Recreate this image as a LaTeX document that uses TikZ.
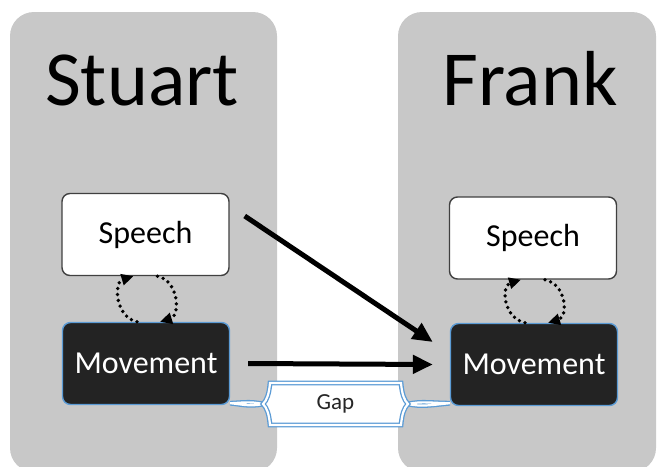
\documentclass[tikz,border=0pt]{standalone}
\usepackage{fontspec}
\setmainfont{Carlito}
\usetikzlibrary{arrows.meta}
\definecolor{panelgray}{HTML}{C8C8C8}
\definecolor{movefill}{HTML}{232323}
\definecolor{gapblue}{HTML}{5B9BD5}
\definecolor{boxedge}{HTML}{404040}
\begin{document}
\begin{tikzpicture}[x=1pt, y=-1pt,
  panel/.style={fill=panelgray, rounded corners=24pt},
  title/.style={anchor=base, font=\fontsize{78}{80}\selectfont},
  speechbox/.style={draw=boxedge, line width=1.4pt, fill=white, rounded corners=8pt,
              minimum width=167pt, minimum height=82pt, font=\fontsize{32}{34}\selectfont},
  movebox/.style={draw=gapblue, line width=1.4pt, fill=movefill, text=white, rounded corners=8pt,
              minimum width=167pt, minimum height=82pt, font=\fontsize{32}{34}\selectfont},
  bigarr/.style={-{Triangle[length=20pt,width=18pt]}, line width=5pt},
  cyc/.style={-{Triangle[length=12pt,width=11pt]}, line width=3.8pt, line cap=round,
              dash pattern=on 0pt off 6pt},
  gapline/.style={draw=gapblue, line width=1.3pt, double=white, double distance=2.2pt}
]
  \useasboundingbox (0,0) rectangle (658,466);
  % Panels
  \fill[panel] (10,12) rectangle (277,472);
  \fill[panel] (398,12) rectangle (656,472);
  \node[title] (stuart) at (142,105) {Stuart};
  \node[title] (frank)  at (530,105) {Frank};
  % Boxes
  \node[speechbox] (sp1) at (145.5,234.5) {Speech};
  \node[movebox]   (mv1) at (146,363.5)   {Movement};
  \node[speechbox] (sp2) at (533,238)     {Speech};
  \node[movebox]   (mv2) at (534,364.5)   {Movement};
  % Loops
  \draw[cyc] ([xshift=-9pt]mv1.north) .. controls +(-22,-5) and +(-20,6) .. ([xshift=-12pt]sp1.south);
  \draw[cyc] ([xshift=12pt]sp1.south) .. controls +(22,5) and +(20,-6) .. ([xshift=14pt]mv1.north);
  \draw[cyc] ([xshift=-9pt]mv2.north) .. controls +(-22,-5) and +(-20,6) .. ([xshift=-12pt]sp2.south);
  \draw[cyc] ([xshift=12pt]sp2.south) .. controls +(22,5) and +(20,-6) .. ([xshift=14pt]mv2.north);
  % Links
  \draw[bigarr] ([xshift=15pt,yshift=18.5pt]sp1.east) -- ([xshift=-17pt,yshift=22.5pt]mv2.west);
  \draw[bigarr] ([xshift=18pt]mv1.east) -- ([xshift=-17pt]mv2.west);
  % Gap
  \coordinate (gl) at (263,404);
  \coordinate (gr) at (408,404);
  \draw[gapline] (gl) .. controls (250,401) and (240,403) .. ([yshift=2pt]mv1.south east)
                      .. controls (240,404) and (250,407) .. (gl);
  \draw[gapline] (gr) .. controls (421,401) and (432,403) .. ([yshift=3pt]mv2.south west)
                      .. controls (432,405) and (421,407) .. (gr);
  \draw[gapline, fill=white] (270,383) -- (401,383)
        .. controls (402,394) and (404,400) .. (gr)
        .. controls (404,408) and (402,414) .. (401,425) -- (270,425)
        .. controls (269,414) and (267,408) .. (gl)
        .. controls (267,400) and (269,394) .. (270,383) -- cycle;
  \node[font=\fontsize{23}{25}\selectfont, text=black!85] (gap) at (335.5,404) {Gap};
\end{tikzpicture}
\end{document}
